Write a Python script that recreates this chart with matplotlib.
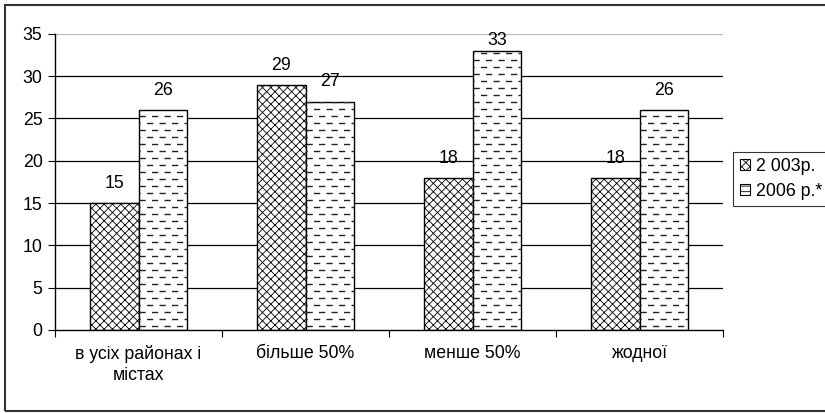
import numpy as np
import matplotlib.pyplot as plt
from matplotlib.patches import Rectangle, Patch

plt.rcParams['font.family'] = ['Liberation Sans', 'DejaVu Sans']
plt.rcParams['hatch.linewidth'] = 0.6

categories = ["в усіх районах і\nмістах", "більше 50%", "менше 50%", "жодної"]
vals_2003 = [15, 29, 18, 18]
vals_2006 = [26, 27, 33, 26]
series_names = ["2 003р.", "2006 р.*"]
yticks = [0, 5, 10, 15, 20, 25, 30, 35]

fs = 12.8

fig = plt.figure(figsize=(8.25, 4.13), dpi=100)
ax = fig.add_axes([0.0667, 0.201, 0.81, 0.717])

x = np.arange(len(categories))
w = 0.29

# grid lines behind bars
for yv in yticks[1:]:
    ax.axhline(yv, color='#bbbbbb' if yv == 35 else 'black', lw=0.9, zorder=0)

b1 = ax.bar(x - w / 2, vals_2003, w, color='white', edgecolor='black',
            hatch='xxxx', lw=1.0, zorder=2)
b2 = ax.bar(x + w / 2, vals_2006, w, color='white', edgecolor='black',
            lw=1.0, zorder=2)

ax.set_xlim(-0.5, len(categories) - 0.5)
ax.set_ylim(0, 35)

# dashed fill for 2006 bars (rows of short dashes, alternately shifted)
fig.canvas.draw()
px_per_unit = ax.transData.transform((0, 1))[1] - ax.transData.transform((0, 0))[1]
px_per_x = ax.transData.transform((1, 0))[0] - ax.transData.transform((0, 0))[0]
step = 7.0 / px_per_unit
for bar in b2:
    x0, y0 = bar.get_x(), bar.get_y()
    bw, bh = bar.get_width(), bar.get_height()
    ys = np.arange(y0 + step / 2, y0 + bh, step)
    for i, yy in enumerate(ys):
        off = 0 if i % 2 == 0 else 4.5 / px_per_x
        ln = ax.hlines(yy, x0 - off, x0 + bw, colors='#222222', lw=1.0,
                       linestyles=(0, (4.5, 4.5)), zorder=3)
        ln.set_clip_path(bar)

# value labels; the tallest one is squeezed under the top of the plot area
for bars, vals in ((b1, vals_2003), (b2, vals_2006)):
    for bar, v in zip(bars, vals):
        dy = 8 if v < 32 else 1
        ax.annotate(str(v), (bar.get_x() + bar.get_width() / 2, v),
                    xytext=(0, dy), textcoords='offset points',
                    ha='center', va='bottom', fontsize=fs)

ax.set_yticks(yticks)
ax.tick_params(axis='y', direction='out', length=5, labelsize=fs, pad=4)
ax.set_xticks(np.arange(-0.5, len(categories), 1.0))
ax.set_xticklabels([])
ax.set_xticks(x, minor=True)
ax.set_xticklabels(categories, minor=True, fontsize=fs, linespacing=1.3)
ax.tick_params(axis='x', which='major', direction='out', length=5)
ax.tick_params(axis='x', which='minor', length=0, pad=11)

for s in ('top', 'right'):
    ax.spines[s].set_visible(False)
for s in ('left', 'bottom'):
    ax.spines[s].set_linewidth(1.0)

handles = [Patch(facecolor='white', edgecolor='black', hatch='xxxx', lw=0.8),
           Patch(facecolor='white', edgecolor='black', hatch='---', lw=0.8)]
leg = fig.legend(handles, series_names, loc='upper left',
                 bbox_to_anchor=(0.889, 0.633), fontsize=fs,
                 handlelength=0.6, handleheight=0.6, handletextpad=0.3,
                 frameon=True, fancybox=False, borderpad=0.35,
                 borderaxespad=0, labelspacing=0.45)
leg.get_frame().set_edgecolor('black')
leg.get_frame().set_linewidth(0.8)

# outer frame
fig.patches.append(Rectangle((0.006, 0.005), 1.2, 0.983, transform=fig.transFigure,
                             fill=False, edgecolor='#333333', lw=1.5))

fig.savefig('out.png', dpi=100)
